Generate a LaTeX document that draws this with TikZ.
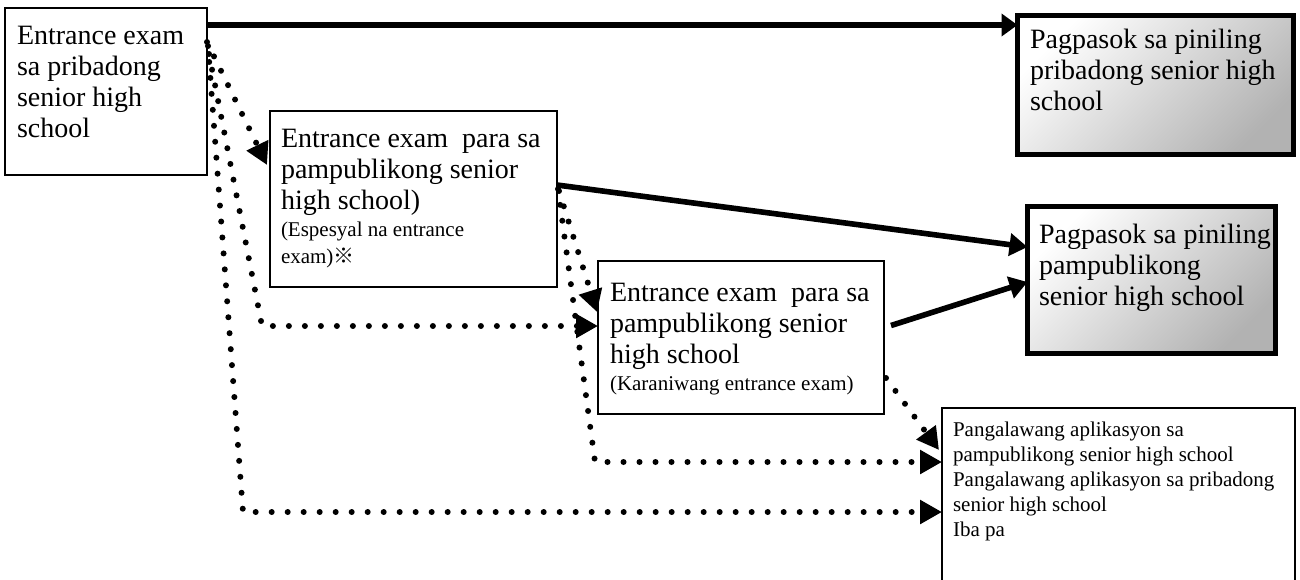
\documentclass[tikz,border=0pt]{standalone}
\usepackage{fontspec}
\setmainfont{Liberation Serif}
\newfontfamily\markfont{Noto Sans CJK JP}
\usepackage{tikz}
\usetikzlibrary{positioning}
\usetikzlibrary{calc}
\usetikzlibrary{arrows.meta}
\newcommand{\bigtext}{\fontsize{14pt}{15.5pt}\selectfont}
\newcommand{\smalltext}{\fontsize{10.5pt}{13.5pt}\selectfont}
\newcommand{\boxtext}[4]{\parbox[t][#3][t]{#2}{\raggedright\leftskip=#1\relax #4}}

\begin{document}
\begin{tikzpicture}[
    x=0.5pt, y=-0.5pt,
    examBox/.style={rectangle,
    draw,
    line width=0.8pt,
    fill=white,
    inner xsep=0pt,
    outer sep=0pt,
    anchor=north west},
    goalBox/.style={examBox,
    line width=2.5pt,
    top color=white,
    bottom color=gray!60,
    shading angle=45},
    solidArrow/.style={line width=2.8pt, -{Triangle[length=9pt,width=11pt]}},
    dotArrow/.style={line width=3pt, line cap=round, dash pattern=on 0pt off 8pt,
    -{Triangle[length=11pt,width=11.5pt]}}
    ]
    \useasboundingbox (0,0) rectangle (1300,579);
    \node[examBox, inner ysep=9.25pt] (1) at (5,8) {\boxtext{6pt}{101pt}{65pt}{\bigtext Entrance exam\\ sa pribadong\\ senior high\\ school}};
    \node[examBox, inner ysep=9.25pt] (2) at (270,111) {\boxtext{5.5pt}{143.5pt}{69.5pt}{\bigtext Entrance exam\ \ para sa\\ pampublikong senior\\ high school)\par
    \smalltext (Espesyal na entrance\\ exam){\markfont ※}}};
    \node[examBox, inner ysep=11.25pt] (3) at (598,261) {\boxtext{6pt}{143pt}{54pt}{\bigtext Entrance exam\ \ para sa\\ pampublikong senior\\ high school\par
    \smalltext (Karaniwang entrance exam)}};
    \node[goalBox, inner ysep=6.75pt] (4) at (1017.5,15.5) {\boxtext{6.25pt}{138pt}{56pt}{\bigtext Pagpasok sa piniling\\ pribadong senior high\\ school}};
    \node[goalBox, inner ysep=8.75pt] (5) at (1027.5,206.5) {\boxtext{5.75pt}{124pt}{56pt}{\bigtext Pagpasok sa piniling\\ pampublikong\\ senior high school}};
    \node[examBox, inner ysep=7pt] (6) at (942,408) {\boxtext{5.5pt}{176.5pt}{82pt}{\fontsize{10.5pt}{12.5pt}\selectfont Pangalawang aplikasyon sa\\ pampublikong senior high school\\ Pangalawang aplikasyon sa pribadong\\ senior high school\\ Iba pa}};
    % solid arrows
    \draw[solidArrow, line width=3.2pt, -{Triangle[length=8pt,width=11pt]}] ($(1.north east)+(0,17)$) coordinate (s1) -- (s1 -| 4.west);
    \draw[solidArrow] ($(2.north east)+(0,74)$) -- ($(5.west)+(0,-33)$);
    \draw[solidArrow] ($(3.east)+(7,-12)$) -- ($(5.west)+(0,2)$);
    % dotted arrows
    \coordinate (t2) at ($(3.west)+(0,-11.5)$);
    \coordinate (t3) at ($(6.west)+(0,8)$);
    \coordinate (t5) at ($(6.west)+(0,-42)$);
    \draw[dotArrow] ($(1.north east)+(0,34)$) -- ($(2.north west)+(-3,54)$);
    \draw[dotArrow] ($(1.north east)+(2,46)$) -- ($(t2)+(-336,0)$) -- (t2);
    \draw[dotArrow] ($(1.north east)+(1,38)$) -- ($(t3)+(-699,0)$) -- (t3);
    \draw[dotArrow] ($(2.north east)+(2,80)$) -- ($(3.north west)+(-1,51)$);
    \draw[dotArrow] ($(2.north east)+(1,78)$) -- ($(t5)+(-347,0)$) -- (t5);
    \draw[dotArrow] ($(3.south east)+(2,-36)$) -- ($(6.north west)+(-3,42)$);
  \end{tikzpicture}
\end{document}
